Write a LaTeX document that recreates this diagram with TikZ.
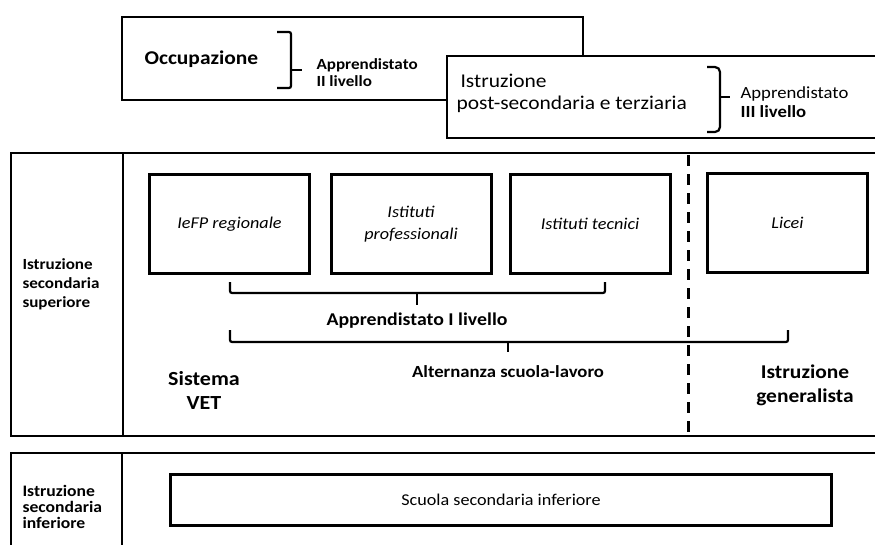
\documentclass[tikz,border=0pt]{standalone}
\usepackage{fontspec}
\setmainfont{Carlito}[FakeStretch=1.1]
\usepackage{xcolor}

\tikzset{
  frame/.style={line width=1.6pt},
  brk/.style={line width=2.2pt, rounded corners=2pt},
  school/.style={draw, line width=3pt, minimum width=160pt, minimum height=99pt, align=center, font=\fontsize{16.5}{22}\selectfont\itshape},
  sidelabel/.style={anchor=west, align=left, font=\fontsize{15.5}{19}\selectfont\bfseries},
  midlabel/.style={align=center, font=\fontsize{17}{20}\selectfont\bfseries},
  biglabel/.style={align=center, font=\fontsize{19.5}{24}\selectfont\bfseries},
}

\begin{document}
\begin{tikzpicture}[x=1pt, y=-1pt]
\useasboundingbox (0,0) rectangle (875,544);
% occupazione
\draw[frame] (122,17) rectangle (583,100);
\node[anchor=west, font=\fontsize{19.5}{22}\selectfont\bfseries] (occ) at (141,59) {Occupazione};
\draw[brk] (277,32) -- (291,32) -- (291,88) -- (277,88);
\draw[brk] (291,70) -- (302,70);
\node[sidelabel, font=\fontsize{15.5}{17}\selectfont\bfseries] (app2) at (313,73) {Apprendistato\\II livello};
% post-secondaria e terziaria
\draw[frame, fill=white] (447,56) rectangle (885,138);
\node[anchor=west, align=left, font=\fontsize{19.5}{22}\selectfont] (post) at (453,93) {\hspace*{4pt}Istruzione\\post-secondaria e terziaria};
\draw[brk, rounded corners=5pt] (707,67) -- (720,67) -- (720,132) -- (707,132);
\draw[brk] (720,97) -- (730,97);
\node[anchor=west, align=left, font=\fontsize{17}{19}\selectfont] (app3) at (737,102) {Apprendistato\\\textbf{III livello}};

% istruzione secondaria superiore
\draw[frame] (885,153) -- (11,153) -- (11,436) -- (885,436);
\draw[frame] (123,153) -- (123,436);
\node[sidelabel] (sup) at (19,284) {Istruzione\\secondaria\\superiore};
\node[school] (iefp) at (229.5,224) {IeFP regionale};
\node[school] (prof) at (411,224) {Istituti\\professionali};
\node[school] (tecn) at (590,224) {Istituti tecnici};
\node[school] (licei) at (787.5,223) {Licei};
\draw[line width=3pt, dash pattern=on 11pt off 8pt] (688,155) -- (688,436);
\draw[brk] (230,282) -- (230,293) -- (605,293) -- (605,282);
\draw[brk] (417,293) -- (417,305);
\node[midlabel, font=\fontsize{18}{20}\selectfont\bfseries] (app1) at (417,321) {Apprendistato I livello};
\draw[brk] (230,330) -- (230,342) -- (788,342) -- (788,330);
\draw[brk] (508,342) -- (508,352);
\node[midlabel] (alt) at (508,372) {Alternanza scuola-lavoro};
\node[biglabel, font=\fontsize{20}{24}\selectfont\bfseries] (vet) at (204,390) {Sistema\\VET};
\node[biglabel] (gen) at (805,385) {Istruzione\\generalista};

% istruzione secondaria inferiore
\draw[frame] (885,453) -- (11,453) -- (11,550);
\draw[frame] (122,453) -- (122,550);
\node[sidelabel, font=\fontsize{16}{16}\selectfont\bfseries] (inf) at (19,507) {Istruzione\\secondaria\\inferiore};
\node[draw, line width=3pt, minimum width=661pt, minimum height=51pt, font=\fontsize{16.5}{20}\selectfont] (ssi) at (501,500) {Scuola secondaria inferiore};
\end{tikzpicture}
\end{document}
